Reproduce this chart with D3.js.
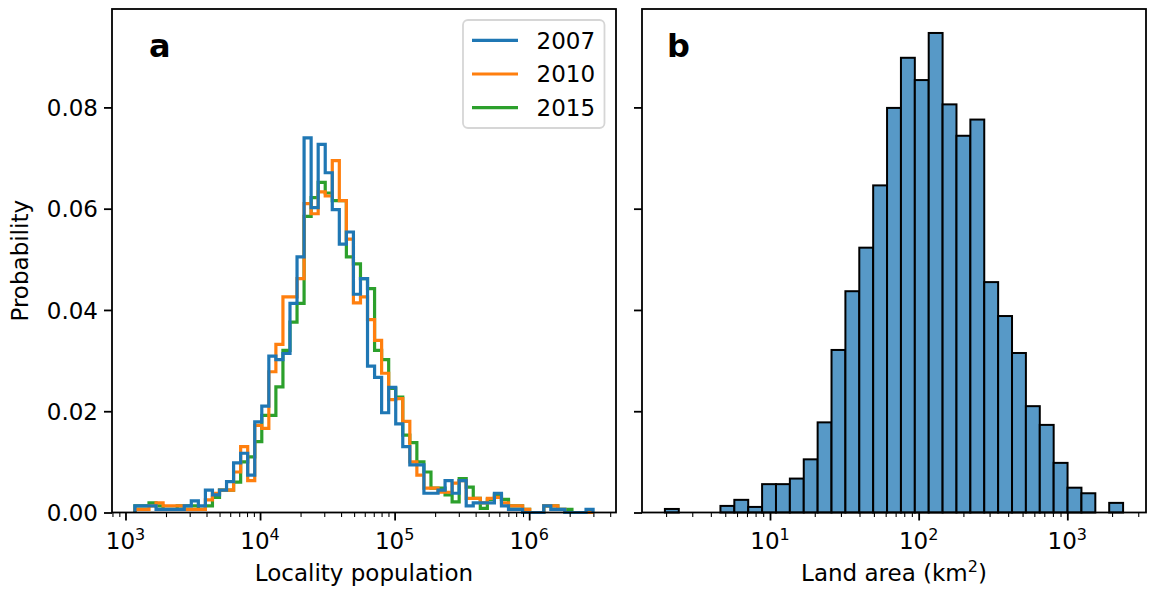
<!DOCTYPE html>
<html>
<head>
<meta charset="utf-8">
<script src="https://cdn.jsdelivr.net/npm/d3@7"></script>
<style>
body { margin: 0; background: #fff; }
svg { display: block; }
text { font-family: "DejaVu Sans", sans-serif; fill: #000; }
</style>
</head>
<body>
<div id="chart"></div>
<script>
// ---- data ----
var years = ["2007", "2010", "2015"];
var popLogRange = [3.07, 6.475];      // log10 of first / last bin edge (65 bins)
var pop2007 = [0.0013, 0.0013, 0.0013, 0.0006, 0.0006, 0.0006, 0.0006, 0.0013, 0.0023, 0.0013,
    0.0044, 0.0035, 0.0044, 0.0061, 0.0098, 0.0117, 0.0074, 0.0179, 0.0210, 0.0309,
    0.0302, 0.0314, 0.0413, 0.0505, 0.0740, 0.0602, 0.0727, 0.0671, 0.0598, 0.0530,
    0.0554, 0.0431, 0.0462, 0.0289, 0.0267, 0.0197, 0.0247, 0.0175, 0.0130, 0.0094,
    0.0094, 0.0038, 0.0038, 0.0044, 0.0063, 0.0038, 0.0063, 0.0013, 0.0019, 0.0019,
    0.0019, 0.0038, 0.0013, 0.0006, 0.0006, 0, 0, 0, 0.0013, 0.0006,
    0.0006, 0, 0, 0, 0.0006];
var pop2010 = [0.0006, 0.0006, 0.0013, 0.0019, 0.0013, 0.0013, 0.0013, 0.0006, 0.0006, 0.0006,
    0.0025, 0.0038, 0.0044, 0.0044, 0.0080, 0.0130, 0.0063, 0.0172, 0.0166, 0.0278,
    0.0332, 0.0426, 0.0426, 0.0462, 0.0610, 0.0590, 0.0633, 0.0625, 0.0695, 0.0616,
    0.0540, 0.0414, 0.0426, 0.0381, 0.0340, 0.0275, 0.0223, 0.0225, 0.0180, 0.0100,
    0.0074, 0.0048, 0.0048, 0.0040, 0.0040, 0.0058, 0.0063, 0.0028, 0.0028, 0.0019,
    0.0028, 0.0030, 0.0019, 0.0013, 0.0013, 0.0006, 0, 0, 0.0013, 0.0013,
    0.0006, 0, 0, 0, 0];
var pop2015 = [0.0013, 0.0013, 0.0019, 0.0013, 0.0006, 0.0006, 0.0013, 0.0013, 0.0013, 0.0006,
    0.0013, 0.0030, 0.0044, 0.0044, 0.0060, 0.0100, 0.0110, 0.0140, 0.0192, 0.0192,
    0.0248, 0.0320, 0.0376, 0.0413, 0.0585, 0.0622, 0.0652, 0.0631, 0.0616, 0.0616,
    0.0505, 0.0491, 0.0462, 0.0442, 0.0320, 0.0302, 0.0245, 0.0228, 0.0153, 0.0138,
    0.0100, 0.0080, 0.0048, 0.0048, 0.0035, 0.0021, 0.0067, 0.0050, 0.0028, 0.0008,
    0.0026, 0.0035, 0.0026, 0.0013, 0.0013, 0.0006, 0, 0, 0.0013, 0.0013,
    0.0006, 0.0006, 0, 0, 0];
var areaLogRange = [0.2931, 3.3752];  // log10 of first / last bin edge (33 bins)
var areaProb = [0.0007, 0, 0, 0, 0.0013, 0.0025, 0.0011, 0.0056, 0.0056, 0.0067,
    0.0105, 0.0178, 0.0321, 0.0437, 0.0523, 0.0646, 0.0799, 0.0898, 0.0854, 0.0947,
    0.0806, 0.0744, 0.0776, 0.0455, 0.0388, 0.0315, 0.0210, 0.0173, 0.0098, 0.0049,
    0.0038, 0, 0.0019];
var yTicks = [0, 0.02, 0.04, 0.06, 0.08];

// ---- layout ----
var width = 1155, height = 589;
var plotTop = 9, plotBottom = 512.5;
var panelA = [112, 616], panelB = [642, 1146];
var colors = ["#1f77b4", "#ff7f0e", "#2ca02c"];
var popSeries = [pop2007, pop2010, pop2015];
var fontSize = 23, supSize = 16, lw = 1.8;

var svg = d3.select("#chart").append("svg")
    .attr("width", width)
    .attr("height", height);

var yMax = d3.max([d3.max(pop2007), d3.max(pop2010), d3.max(pop2015), d3.max(areaProb)]);
var y = d3.scaleLinear().domain([0, yMax * 1.05]).range([plotBottom, plotTop]);

function logScale(range, px) {
    var m = (range[1] - range[0]) * 0.05;
    return d3.scaleLog()
        .domain([Math.pow(10, range[0] - m), Math.pow(10, range[1] + m)])
        .range(px);
}
function binEdges(range, n) {
    return d3.range(n + 1).map(function (i) {
        return Math.pow(10, range[0] + (range[1] - range[0]) * i / n);
    });
}
function minorTicks(scale) {
    var d = scale.domain(), out = [];
    for (var e = Math.floor(Math.log10(d[0])); e <= Math.ceil(Math.log10(d[1])); e++) {
        for (var k = 2; k < 10; k++) {
            var v = k * Math.pow(10, e);
            if (v >= d[0] && v <= d[1]) out.push(v);
        }
    }
    return out;
}
function majorTicks(scale) {
    var d = scale.domain(), out = [];
    for (var e = Math.ceil(Math.log10(d[0])); e <= Math.floor(Math.log10(d[1])); e++) out.push(e);
    return out;
}

function drawXAxis(x, label, sup) {
    var gMinor = svg.append("g")
        .attr("transform", "translate(0," + plotBottom + ")")
        .call(d3.axisBottom(x).tickValues(minorTicks(x)).tickSize(4.6).tickFormat(""));
    var gMajor = svg.append("g")
        .attr("transform", "translate(0," + plotBottom + ")")
        .call(d3.axisBottom(x).tickValues(majorTicks(x).map(function (e) { return Math.pow(10, e); }))
            .tickSize(8).tickFormat(""));
    gMinor.selectAll("line").attr("stroke-width", lw * 0.6);
    gMajor.selectAll("line").attr("stroke-width", lw);
    [gMinor, gMajor].forEach(function (g) {
        g.select(".domain").remove();
        g.selectAll("line").attr("stroke", "#000");
    });
    majorTicks(x).forEach(function (e) {
        var t = svg.append("text")
            .attr("x", x(Math.pow(10, e)))
            .attr("y", 549)
            .attr("text-anchor", "middle")
            .attr("font-size", fontSize + "px");
        t.append("tspan").text("10");
        t.append("tspan").attr("dy", -9).attr("font-size", supSize + "px").text(e);
    });
    var xm = (x.range()[0] + x.range()[1]) / 2;
    var lt = svg.append("text")
        .attr("x", xm)
        .attr("y", 581)
        .attr("text-anchor", "middle")
        .attr("font-size", fontSize + "px");
    lt.append("tspan").text(label);
    if (sup) {
        lt.append("tspan").attr("dy", -9).attr("font-size", supSize + "px").text(sup);
        lt.append("tspan").attr("dy", 9).text(")");
    }
}

function drawYAxis(px, withLabels) {
    var g = svg.append("g")
        .attr("transform", "translate(" + px + ",0)")
        .call(d3.axisLeft(y).tickValues(yTicks).tickSize(8).tickPadding(6)
            .tickFormat(withLabels ? d3.format(".2f") : ""));
    g.select(".domain").remove();
    g.selectAll("line").attr("stroke", "#000").attr("stroke-width", lw);
    g.selectAll("text")
        .attr("font-family", "DejaVu Sans")
        .attr("font-size", fontSize + "px")
        .attr("fill", "#000")
        .attr("dy", "0.36em");
}

// ---- panel a: step histograms ----
var xA = logScale(popLogRange, panelA);
var edgesA = binEdges(popLogRange, pop2007.length);
var stepLine = d3.line();

[2, 1, 0].forEach(function (s) {
    var vals = popSeries[s];
    var pts = [[xA(edgesA[0]), y(0)]];
    vals.forEach(function (v, i) {
        pts.push([xA(edgesA[i]), y(v)]);
        pts.push([xA(edgesA[i + 1]), y(v)]);
    });
    pts.push([xA(edgesA[vals.length]), y(0)]);
    svg.append("path")
        .attr("d", stepLine(pts))
        .attr("fill", "none")
        .attr("stroke", colors[s])
        .attr("stroke-width", 3.2)
        .attr("stroke-linejoin", "miter");
});

drawYAxis(panelA[0], true);
drawXAxis(xA, "Locality population");

svg.append("rect")
    .attr("x", panelA[0]).attr("y", plotTop)
    .attr("width", panelA[1] - panelA[0]).attr("height", plotBottom - plotTop)
    .attr("fill", "none").attr("stroke", "#000").attr("stroke-width", lw);

svg.append("text")
    .attr("transform", "translate(28," + (plotTop + plotBottom) / 2 + ") rotate(-90)")
    .attr("text-anchor", "middle")
    .attr("font-size", fontSize + "px")
    .text("Probability");

svg.append("text")
    .attr("x", 149).attr("y", 57)
    .attr("font-size", "32px").attr("font-weight", "bold")
    .text("a");

// legend
var legend = svg.append("g");
legend.append("rect")
    .attr("x", 463).attr("y", 20).attr("width", 141.5).attr("height", 108)
    .attr("rx", 5).attr("fill", "#fff").attr("fill-opacity", 0.8)
    .attr("stroke", "#d6d6d6").attr("stroke-width", lw);
years.forEach(function (yr, i) {
    var cy = 40.3 + i * 33.7;
    legend.append("line")
        .attr("x1", 472).attr("x2", 518).attr("y1", cy).attr("y2", cy)
        .attr("stroke", colors[i]).attr("stroke-width", 3.2);
    legend.append("text")
        .attr("x", 536.5).attr("y", cy + 8.4)
        .attr("font-size", fontSize + "px")
        .text(yr);
});

// ---- panel b: bar histogram ----
var xB = logScale(areaLogRange, panelB);
var edgesB = binEdges(areaLogRange, areaProb.length);

svg.append("g").selectAll("rect")
    .data(areaProb)
    .enter()
    .append("rect")
    .attr("x", function (d, i) { return xB(edgesB[i]); })
    .attr("width", function (d, i) { return xB(edgesB[i + 1]) - xB(edgesB[i]); })
    .attr("y", function (d) { return y(d); })
    .attr("height", function (d) { return y(0) - y(d); })
    .attr("fill", "#5799c7")
    .attr("stroke", "#000")
    .attr("stroke-width", 2);

drawYAxis(panelB[0], false);
drawXAxis(xB, "Land area (km", "2");

svg.append("rect")
    .attr("x", panelB[0]).attr("y", plotTop)
    .attr("width", panelB[1] - panelB[0]).attr("height", plotBottom - plotTop)
    .attr("fill", "none").attr("stroke", "#000").attr("stroke-width", lw);

svg.append("text")
    .attr("x", 667).attr("y", 57)
    .attr("font-size", "32px").attr("font-weight", "bold")
    .text("b");
</script>
</body>
</html>
